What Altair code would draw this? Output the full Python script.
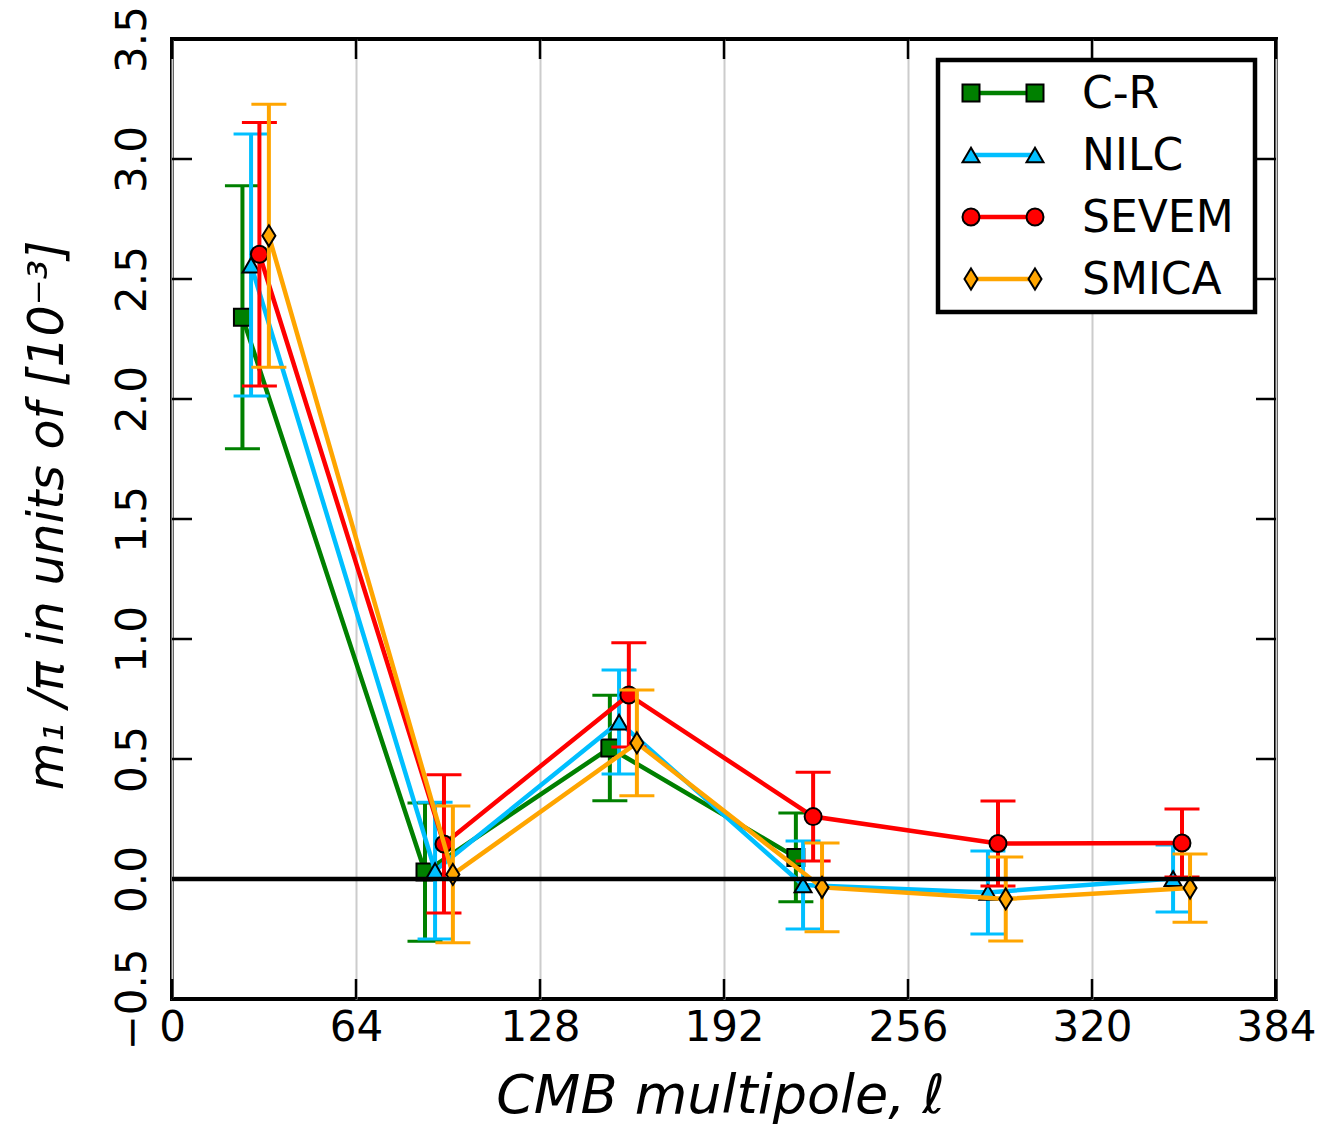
import altair as alt
import pandas as pd

# ---------------- data ----------------
series_names = ["C-R", "NILC", "SEVEM", "SMICA"]
series_colors = ["#008000", "#00BFFF", "#FF0000", "#FFA500"]

cr_x = [24.5, 88.0, 152.3, 217.0]
cr_y = [2.341, 0.029, 0.546, 0.090]
cr_err = [0.548, 0.288, 0.220, 0.185]

nilc_x = [27.5, 91.5, 155.5, 219.5, 283.8, 348.2]
nilc_y = [2.558, 0.035, 0.654, -0.025, -0.056, 0.002]
nilc_err = [0.546, 0.285, 0.217, 0.183, 0.173, 0.140]

sevem_x = [30.4, 94.6, 158.9, 223.0, 287.3, 351.3]
sevem_y = [2.603, 0.146, 0.767, 0.260, 0.148, 0.150]
sevem_err = [0.549, 0.288, 0.217, 0.185, 0.177, 0.142]

smica_x = [33.7, 97.7, 161.7, 226.1, 290.0, 354.1]
smica_y = [2.680, 0.019, 0.567, -0.035, -0.083, -0.038]
smica_err = [0.548, 0.285, 0.220, 0.185, 0.175, 0.142]

x_ticks = [0, 64, 128, 192, 256, 320, 384]
y_ticks = [-0.5, 0.0, 0.5, 1.0, 1.5, 2.0, 2.5, 3.0, 3.5]

x_title = "CMB multipole, ℓ"
y_title = "m₁ /π in units of [10⁻³]"

# ---------------- layout ----------------
W, H = 1104, 960
FONT = "DejaVu Sans"
TICK_LEN = 20

shapes = ["square", "triangle-up", "circle", "M0,-1L0.62,0L0,1L-0.62,0Z"]
sizes = [289, 289, 289, 440]

x_scale = alt.Scale(domain=[0, 384], nice=False, zero=False)
y_scale = alt.Scale(domain=[-0.5, 3.5], nice=False, zero=False)

x_axis = alt.Axis(
    values=x_ticks, grid=True, gridColor="#cccccc", gridWidth=2,
    ticks=False, tickSize=0, domain=False, labelFontSize=42, labelFont=FONT,
    labelColor="black", labelPadding=8, labelFlush=False, labelOverlap=False,
    labelBound=False, title=x_title, titleFontSize=54, titleFont=FONT,
    titleFontStyle="italic", titleFontWeight="normal", titleColor="black",
    titleX=W / 2 - 4, titleY=113, titleAlign="center", titleBaseline="alphabetic",
)
y_axis = alt.Axis(
    values=y_ticks, grid=False, ticks=False, tickSize=0, domain=False,
    format=".1f", labelFontSize=42, labelFont=FONT, labelColor="black",
    labelAngle=270, labelAlign="center", labelBaseline="alphabetic",
    labelPadding=27, labelFlush=False, labelOverlap=False, labelBound=False,
    title=y_title, titleFontSize=49, titleFont=FONT, titleFontStyle="italic",
    titleFontWeight="normal", titleColor="black", titleAngle=270,
    titleX=-110, titleY=H / 2 - 4, titleAlign="center", titleBaseline="alphabetic",
)


def X(field):
    return alt.X(f"{field}:Q", scale=x_scale, axis=x_axis)


def Y(field):
    return alt.Y(f"{field}:Q", scale=y_scale, axis=y_axis)


layers = []

# inward ticks on all four sides
xt = pd.DataFrame({"x": x_ticks})
yt = pd.DataFrame({"y": y_ticks})
layers.append(alt.Chart(xt).mark_rule(color="black", strokeWidth=2.5).encode(
    x=X("x"), y=alt.value(H), y2=alt.value(H - TICK_LEN)))
layers.append(alt.Chart(xt).mark_rule(color="black", strokeWidth=2.5).encode(
    x=X("x"), y=alt.value(0), y2=alt.value(TICK_LEN)))
layers.append(alt.Chart(yt).mark_rule(color="black", strokeWidth=2.5).encode(
    y=Y("y"), x=alt.value(0), x2=alt.value(TICK_LEN)))
layers.append(alt.Chart(yt).mark_rule(color="black", strokeWidth=2.5).encode(
    y=Y("y"), x=alt.value(W - TICK_LEN), x2=alt.value(W)))

all_series = [
    (cr_x, cr_y, cr_err),
    (nilc_x, nilc_y, nilc_err),
    (sevem_x, sevem_y, sevem_err),
    (smica_x, smica_y, smica_err),
]

for i, (xs, ys, es) in enumerate(all_series):
    col = series_colors[i]
    df = pd.DataFrame({"x": xs, "y": ys,
                       "lo": [a - b for a, b in zip(ys, es)],
                       "hi": [a + b for a, b in zip(ys, es)]})
    caps = pd.DataFrame({"x": xs + xs,
                         "y": [a - b for a, b in zip(ys, es)] + [a + b for a, b in zip(ys, es)]})
    layers.append(alt.Chart(df).mark_line(color=col, strokeWidth=4.5, opacity=1).encode(
        x=X("x"), y=Y("y")))
    layers.append(alt.Chart(df).mark_rule(color=col, strokeWidth=4, opacity=1).encode(
        x=X("x"), y=Y("lo"), y2=alt.Y2("hi:Q")))
    layers.append(alt.Chart(caps).mark_tick(color=col, orient="horizontal", size=35,
                                            thickness=3, opacity=1).encode(x=X("x"), y=Y("y")))
    layers.append(alt.Chart(df).mark_point(
        shape=shapes[i], size=sizes[i], filled=True, fill=col, stroke="black",
        strokeWidth=2, opacity=1).encode(x=X("x"), y=Y("y")))

# zero line
layers.append(alt.Chart(pd.DataFrame({"y": [0.0]})).mark_rule(
    color="black", strokeWidth=4.5).encode(y=Y("y"), x=alt.value(0), x2=alt.value(W)))

# legend (drawn by hand, matplotlib style)
LX0, LX1, LY0, LY1 = 766, 1083, 21, 273
one = pd.DataFrame({"k": [0]})
layers.append(alt.Chart(one).mark_rect(fill="white", stroke="black", strokeWidth=4.5).encode(
    x=alt.value(LX0), x2=alt.value(LX1), y=alt.value(LY0), y2=alt.value(LY1)))
for i, name in enumerate(series_names):
    col = series_colors[i]
    ly = 54 + 62 * i
    d = pd.DataFrame({"s": [name]})
    layers.append(alt.Chart(d).mark_rule(color=col, strokeWidth=4.5).encode(
        x=alt.value(799), x2=alt.value(863), y=alt.value(ly)))
    for px in (799, 863):
        layers.append(alt.Chart(d).mark_point(
            shape=shapes[i], size=sizes[i], filled=True, fill=col, stroke="black",
            strokeWidth=2, opacity=1).encode(x=alt.value(px), y=alt.value(ly)))
    layers.append(alt.Chart(d).mark_text(
        align="left", baseline="middle", fontSize=44, font=FONT, color="black").encode(
        x=alt.value(910), y=alt.value(ly + 2), text="s:N"))

chart = alt.layer(*layers).properties(
    width=W, height=H,
    padding={"left": 172, "top": 39, "right": 45, "bottom": 127},
    autosize=alt.AutoSizeParams(type="none"),
).configure(font=FONT).configure_view(
    stroke="black", strokeWidth=4
)

chart.save("out.html", embed_options={"renderer": "svg", "actions": False})
